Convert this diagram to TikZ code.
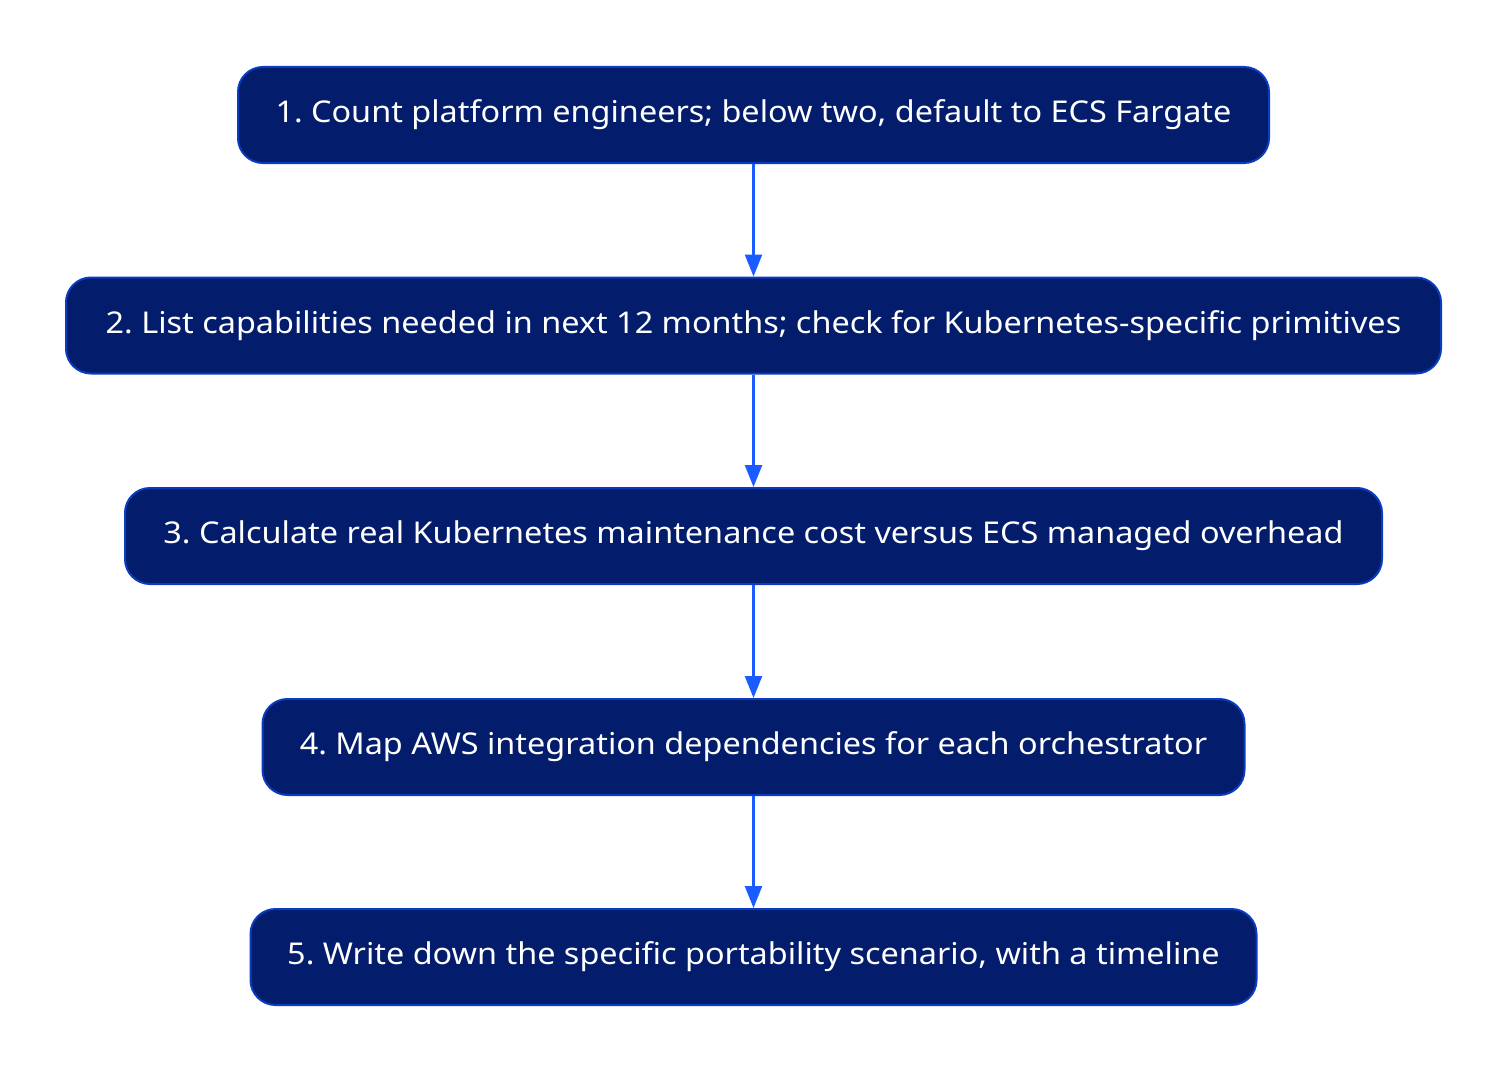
\documentclass[tikz,border=0pt]{standalone}
\usepackage{fontspec}
\setmainfont[FakeStretch=1.08]{Noto Sans}
\usetikzlibrary{arrows.meta}
\definecolor{boxfill}{HTML}{031C6B}
\definecolor{boxdraw}{HTML}{0A3CC2}
\definecolor{arrowc}{HTML}{1A5CFF}
\frenchspacing
\begin{document}
\begin{tikzpicture}[x=1pt,y=-1pt,
  stepbox/.style={draw=boxdraw, fill=boxfill, line width=2pt, rounded corners=25pt,
    text=white, font=\fontsize{30}{35}\selectfont, minimum height=96pt, inner sep=0pt},
  flow/.style={draw=arrowc, line width=2.5pt, -{Triangle[length=22pt,width=17pt]}}]
\useasboundingbox (0,0) rectangle (1508,1073);
\node[stepbox, minimum width=1031pt] (s1) at (753.5,115) {1. Count platform engineers; below two, default to ECS Fargate};
\node[stepbox, minimum width=1375pt] (s2) at (753.5,325.5) {2. List capabilities needed in next 12 months; check for Kubernetes-specific primitives};
\node[stepbox, minimum width=1257pt] (s3) at (753.5,536) {3. Calculate real Kubernetes maintenance cost versus ECS managed overhead};
\node[stepbox, minimum width=982pt] (s4) at (753.5,747) {4. Map AWS integration dependencies for each orchestrator};
\node[stepbox, minimum width=1006pt] (s5) at (753.5,957) {5. Write down the specific portability scenario, with a timeline};
\draw[flow] (s1) -- (s2);
\draw[flow] (s2) -- (s3);
\draw[flow] (s3) -- (s4);
\draw[flow] (s4) -- (s5);
\end{tikzpicture}
\end{document}
